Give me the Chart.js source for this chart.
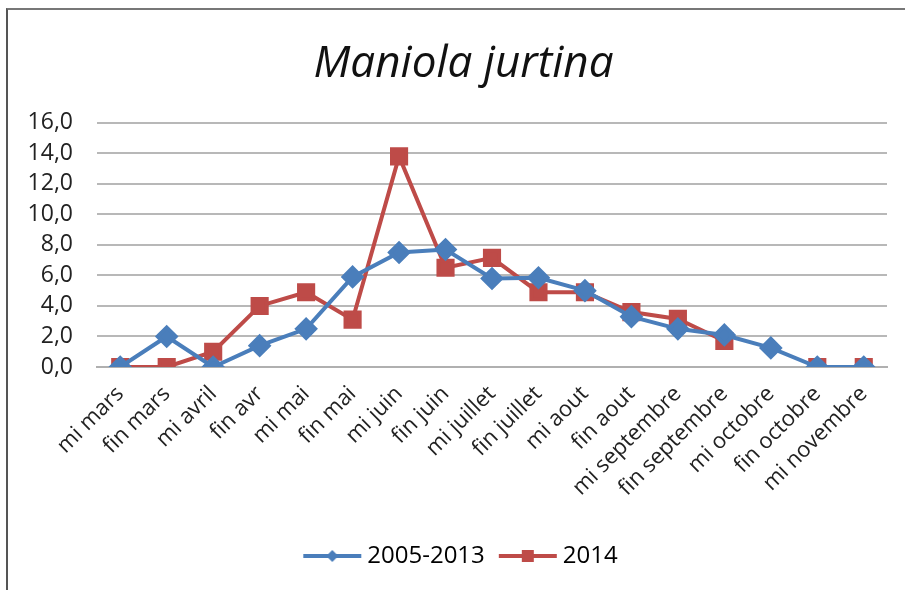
<!DOCTYPE html>
<html>
<head>
<meta charset="utf-8">
<script src="https://cdn.jsdelivr.net/npm/chart.js@4"></script>
<style>
  html, body { margin: 0; padding: 0; background: #fff; }
  #wrap { position: relative; width: 905px; height: 590px; }
  #frame { position: absolute; left: 6px; top: 8px; right: -2px; bottom: -2px; border-left: 2px solid #555; border-top: 2px solid #777; }
  canvas { position: absolute; left: 0; top: 0; }
</style>
</head>
<body>
<div id="wrap">
  <div id="frame"></div>
  <canvas id="chart" width="905" height="590"></canvas>
</div>
<script>
// periodes
const categories = ['mi mars', 'fin mars', 'mi avril', 'fin avr', 'mi mai', 'fin mai', 'mi juin', 'fin juin',
  'mi juillet', 'fin juillet', 'mi aout', 'fin aout', 'mi septembre', 'fin septembre', 'mi octobre',
  'fin octobre', 'mi novembre'];
// moyenne 2005-2013
const moyenne = [0, 2.0, 0, 1.4, 2.5, 5.9, 7.5, 7.7, 5.8, 5.85, 5.0, 3.3, 2.5, 2.1, 1.25, 0, 0];
// annee 2014 (pas de releve mi octobre)
const annee2014 = [0, 0, 1.0, 4.0, 4.9, 3.1, 13.8, 6.5, 7.15, 4.9, 4.9, 3.6, 3.15, 1.7, null, 0, 0];
const yTicks = [0, 2, 4, 6, 8, 10, 12, 14, 16];

const blue = '#4a7ebb';
const red = '#be4b48';

// petite image ligne + marqueur pour la legende
function legendIcon(color, shape) {
  const c = document.createElement('canvas');
  c.width = 62; c.height = 20;
  const g = c.getContext('2d');
  g.strokeStyle = color; g.lineWidth = 4;
  g.beginPath(); g.moveTo(2, 10); g.lineTo(60, 10); g.stroke();
  g.fillStyle = color;
  g.beginPath();
  if (shape === 'diamond') {
    g.moveTo(31, 4); g.lineTo(37, 10); g.lineTo(31, 16); g.lineTo(25, 10);
  } else {
    g.rect(25, 4, 12, 12);
  }
  g.fill();
  return c;
}
const icons = [legendIcon(blue, 'diamond'), legendIcon(red, 'square')];

new Chart(document.getElementById('chart'), {
  type: 'line',
  data: {
    labels: categories,
    datasets: [{
      label: '2005-2013',
      data: moyenne,
      borderColor: blue,
      backgroundColor: blue,
      borderWidth: 4,
      pointStyle: 'rectRot',
      pointRadius: 9,
      tension: 0
    }, {
      label: '2014',
      data: annee2014,
      borderColor: red,
      backgroundColor: red,
      borderWidth: 4,
      pointStyle: 'rect',
      pointRadius: 10,
      tension: 0,
      spanGaps: false
    }]
  },
  options: {
    responsive: false,
    animation: false,
    layout: { padding: { left: 40, right: 18, top: 0, bottom: 12 } },
    plugins: {
      title: {
        display: true,
        text: 'Maniola jurtina',
        color: '#111',
        font: { family: 'Open Sans', size: 44, style: 'italic', weight: 'normal' },
        padding: { top: 38, bottom: 32 }
      },
      legend: {
        position: 'bottom',
        labels: {
          usePointStyle: true,
          pointStyleWidth: 46,
          padding: 20,
          color: '#222',
          font: { family: 'Open Sans', size: 24 },
          generateLabels: (chart) => chart.data.datasets.map((ds, i) => ({
            text: ds.label,
            pointStyle: icons[i],
            fillStyle: ds.borderColor,
            strokeStyle: ds.borderColor,
            lineWidth: 0,
            datasetIndex: i
          }))
        }
      },
      tooltip: { enabled: false }
    },
    scales: {
      x: {
        offset: true,
        grid: { display: false, drawTicks: false },
        border: { display: true, color: '#b0b0b0', width: 2 },
        ticks: {
          color: '#222',
          font: { family: 'Open Sans', size: 22 },
          maxRotation: 45,
          minRotation: 45,
          padding: 14,
          autoSkip: false
        },
        afterFit: (scale) => { scale.height = 157; }
      },
      y: {
        min: 0,
        max: 16,
        afterBuildTicks: (scale) => { scale.ticks = yTicks.map(v => ({ value: v })); },
        grid: { color: '#b8b8b8', lineWidth: 2, drawTicks: false },
        border: { display: false },
        ticks: {
          color: '#222',
          font: { family: 'Open Sans', size: 23 },
          padding: 24,
          autoSkip: false,
          callback: (v) => v.toFixed(1).replace('.', ',')
        },
        afterFit: (scale) => {
          scale.width = 57;
          // les etiquettes debordent dans la marge gauche : pas de decoupage
          scale._computeLabelArea = () => undefined;
        }
      }
    }
  }
});
</script>
</body>
</html>
